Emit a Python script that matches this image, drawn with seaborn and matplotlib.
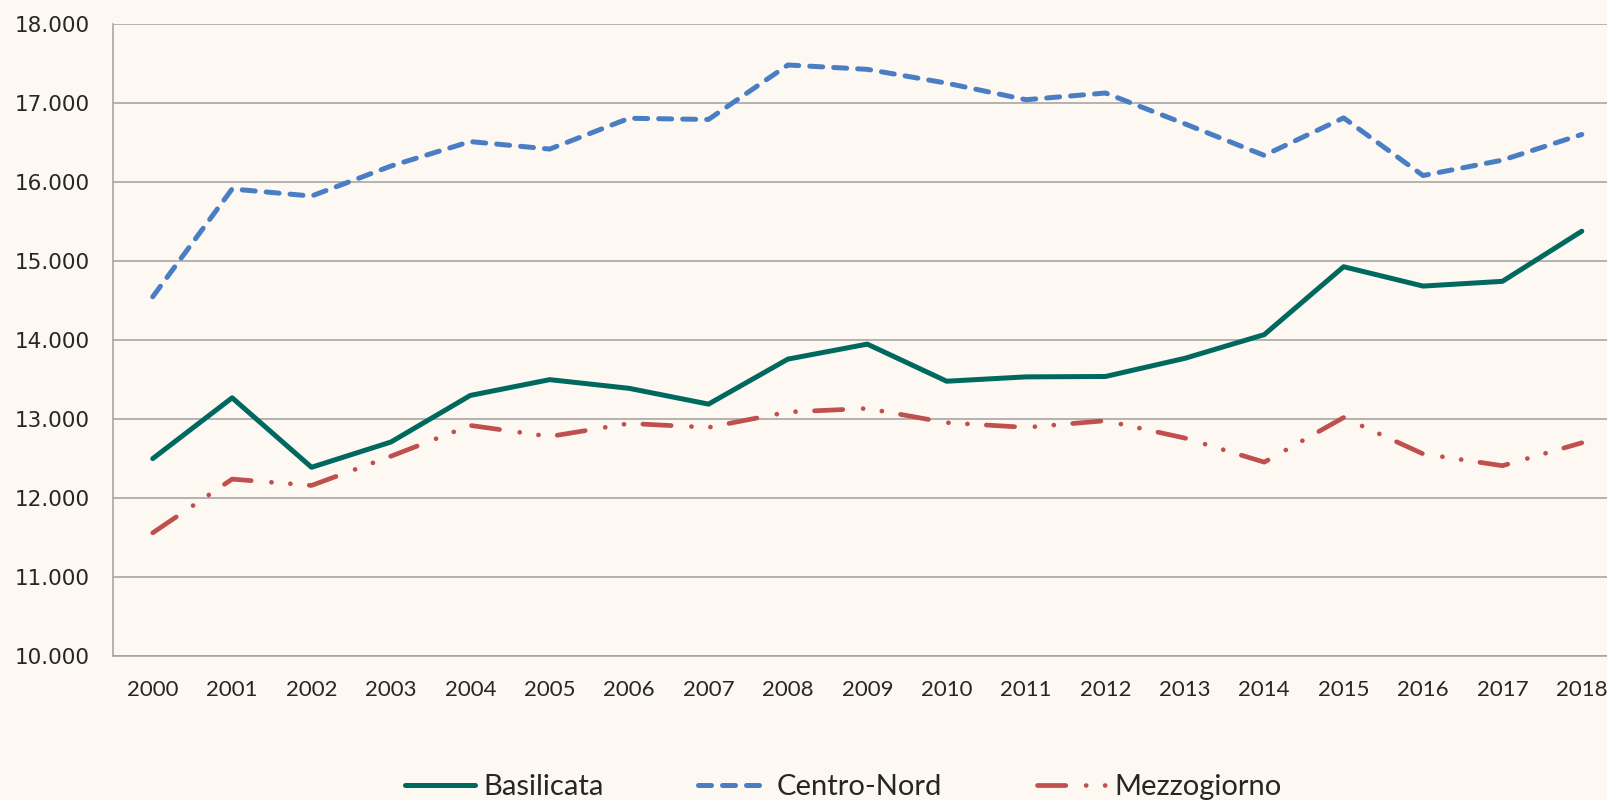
import numpy as np
import pandas as pd
import seaborn as sns
import matplotlib.pyplot as plt
from matplotlib.ticker import FixedLocator

# dati
anni = [str(a) for a in range(2000, 2019)]
basilicata = [12500, 13270, 12390, 12710, 13300, 13500, 13390, 13190, 13760, 13950,
              13480, 13535, 13540, 13770, 14070, 14930, 14685, 14745, 15380]
centro_nord = [14550, 15915, 15825, 16205, 16515, 16420, 16810, 16795, 17485, 17430,
               17255, 17045, 17130, 16740, 16340, 16815, 16085, 16280, 16605]
mezzogiorno = [11560, 12240, 12160, 12530, 12920, 12780, 12945, 12895, 13090, 13135,
               12955, 12895, 12980, 12760, 12455, 13020, 12560, 12410, 12700]
y_ticks = [10000, 11000, 12000, 13000, 14000, 15000, 16000, 17000, 18000]
y_labels = [f"{v:,}".replace(",", ".") for v in y_ticks]

sfondo = "#FDF8F1"
griglia = "#A0A0A0"

sns.set_style("white")
plt.rcParams["font.family"] = ["DejaVu Sans"]

df = pd.DataFrame({"pos": np.arange(len(anni)), "anno": anni,
                   "Basilicata": basilicata, "Centro-Nord": centro_nord,
                   "Mezzogiorno": mezzogiorno})

fig = plt.figure(figsize=(16.08, 8.0), dpi=100, facecolor=sfondo)
ax = fig.add_axes([0.0703, 0.18, 0.9297, 0.7896])
ax.set_facecolor(sfondo)

# linee
sns.lineplot(data=df, x="pos", y="Basilicata", ax=ax, color="#00695F", lw=3.6,
             label="Basilicata", legend=False, solid_capstyle="round")
sns.lineplot(data=df, x="pos", y="Centro-Nord", ax=ax, color="#4A7EC4", lw=3.6,
             linestyle=(0, (2.6, 2.2)), dash_capstyle="round",
             label="Centro-Nord", legend=False)
sns.lineplot(data=df, x="pos", y="Mezzogiorno", ax=ax, color="#C0504D", lw=3.4,
             linestyle=(0, (6.0, 4.3, 0.02, 4.0, 0.02, 4.0)), dash_capstyle="round",
             label="Mezzogiorno", legend=False)

# assi
ax.set_xlim(-0.5, 18.33)
ax.set_ylim(10000, 18000)
ax.set_yticks(y_ticks)
ax.set_yticklabels(y_labels, fontsize=15.5, color="#262626")
ax.set_xticks(df["pos"])
ax.set_xticklabels(anni, family=["Lato", "DejaVu Sans"], fontsize=16, color="#262626")
ax.xaxis.set_minor_locator(FixedLocator(np.arange(-0.5, 19, 1)))
ax.tick_params(axis="x", which="major", length=0, pad=17)
ax.tick_params(axis="x", which="minor", length=9, width=1, color=griglia, direction="out")
ax.tick_params(axis="y", length=8, width=1, color=griglia, direction="out", pad=9)
ax.set_xlabel("")
ax.set_ylabel("")

ax.grid(axis="y", color=griglia, lw=1.1)
ax.grid(axis="x", visible=False)
ax.set_axisbelow(True)
for lato in ["top", "right"]:
    ax.spines[lato].set_visible(False)
for lato in ["left", "bottom"]:
    ax.spines[lato].set_color(griglia)
    ax.spines[lato].set_linewidth(1.1)

# legenda
handles, labels = ax.get_legend_handles_labels()
fig.legend(handles, labels, loc="center", bbox_to_anchor=(0.5246, 0.016), ncol=3,
           frameon=False, prop={"family": ["Lato", "DejaVu Sans"], "size": 21},
           handlelength=2.4, handletextpad=0.27, columnspacing=3.25)

fig.savefig("out.png", dpi=100, facecolor=sfondo)
